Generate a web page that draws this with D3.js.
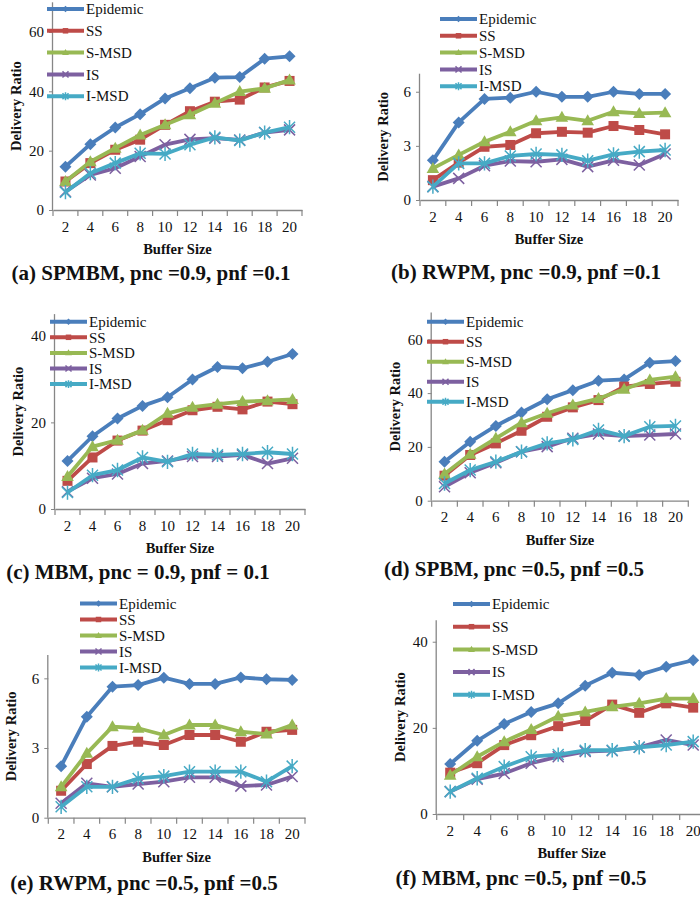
<!DOCTYPE html>
<html><head><meta charset="utf-8">
<script src="https://cdn.jsdelivr.net/npm/d3@7"></script>
<style>html,body{margin:0;padding:0;background:#fff;}svg{display:block;}
svg text{font-family:"Liberation Serif","Times New Roman",serif;}</style>
</head><body>
<svg id="chart" width="700" height="900"></svg>
<script>
// ---------- DATA ----------
const bufferSizes = [2, 4, 6, 8, 10, 12, 14, 16, 18, 20];
const seriesNames = ["Epidemic", "SS", "S-MSD", "IS", "I-MSD"];

// (a) SPMBM, pnc=0.9, pnf=0.1
const epidemicA = [14.6, 22.2, 27.8, 32.3, 37.6, 41.0, 44.6, 44.8, 51.0, 51.8];
const ssA       = [9.6, 15.8, 20.3, 23.7, 28.7, 33.3, 36.5, 37.2, 41.3, 43.5];
const smsdA     = [9.6, 16.3, 20.8, 25.3, 28.7, 32.1, 36.0, 39.9, 41.0, 43.8];
const isA       = [6.2, 11.8, 14.1, 18.0, 22.0, 23.8, 24.2, 23.6, 26.1, 27.0];
const imsdA     = [6.0, 12.4, 15.8, 19.1, 18.9, 22.0, 24.5, 23.4, 26.1, 27.9];
const yTicksA = [0, 20, 40, 60];
const yMaxA = 70;
const captionA = "(a) SPMBM, pnc =0.9, pnf =0.1";

// (b) RWPM, pnc=0.9, pnf=0.1
const epidemicB = [2.2, 4.3, 5.6, 5.67, 6.0, 5.72, 5.72, 6.0, 5.88, 5.88];
const ssB       = [1.1, 2.07, 2.95, 3.05, 3.7, 3.78, 3.73, 4.1, 3.88, 3.64];
const smsdB     = [1.75, 2.5, 3.23, 3.78, 4.39, 4.58, 4.39, 4.89, 4.8, 4.84];
const isB       = [0.74, 1.2, 1.9, 2.16, 2.12, 2.25, 1.85, 2.2, 1.94, 2.55];
const imsdB     = [0.74, 2.03, 2.03, 2.44, 2.55, 2.5, 2.18, 2.53, 2.68, 2.77];
const yTicksB = [0, 3, 6];
const yMaxB = 7;
const captionB = "(b) RWPM, pnc =0.9, pnf =0.1";

// (c) MBM, pnc=0.9, pnf=0.1
const epidemicC = [11.1, 16.8, 20.9, 23.8, 25.8, 29.9, 32.8, 32.5, 34.0, 35.8];
const ssC       = [6.5, 11.9, 15.8, 18.1, 20.5, 22.8, 23.6, 23.0, 24.8, 24.2];
const smsdC     = [7.5, 14.4, 15.9, 18.2, 22.1, 23.5, 24.2, 24.8, 25.0, 25.3];
const isC       = [4.0, 7.1, 8.1, 10.5, 11.1, 12.1, 12.1, 12.5, 10.5, 11.7];
const imsdC     = [3.8, 7.8, 9.0, 11.9, 10.9, 12.7, 12.5, 12.7, 13.1, 12.7];
const yTicksC = [0, 20, 40];
const yMaxC = 45;
const captionC = "(c) MBM, pnc = 0.9, pnf = 0.1";

// (d) SPBM, pnc=0.5, pnf=0.5
const epidemicD = [14.5, 21.9, 27.8, 32.8, 37.7, 41.1, 44.6, 45.1, 51.3, 51.9];
const ssD       = [9.3, 17.0, 21.3, 26.0, 31.2, 34.7, 37.4, 42.4, 43.4, 44.2];
const smsdD     = [9.9, 17.3, 23.2, 29.0, 32.5, 35.6, 38.0, 41.4, 44.9, 46.1];
const isD       = [5.2, 10.4, 14.1, 18.2, 20.1, 23.2, 24.8, 24.0, 24.4, 24.8];
const imsdD     = [6.4, 11.4, 14.5, 18.2, 21.3, 22.8, 26.3, 24.0, 27.5, 27.8];
const yTicksD = [0, 20, 40, 60];
const yMaxD = 70;
const captionD = "(d) SPBM, pnc =0.5, pnf =0.5";

// (e) RWPM, pnc=0.5, pnf=0.5
const epidemicE = [2.22, 4.35, 5.64, 5.71, 6.03, 5.76, 5.76, 6.04, 5.96, 5.93];
const ssE       = [1.16, 2.31, 3.09, 3.27, 3.13, 3.56, 3.56, 3.27, 3.7, 3.78];
const smsdE     = [1.33, 2.77, 3.92, 3.85, 3.56, 3.99, 3.99, 3.7, 3.6, 3.99];
const isE       = [0.62, 1.48, 1.33, 1.45, 1.55, 1.74, 1.74, 1.36, 1.41, 1.77];
const imsdE     = [0.47, 1.33, 1.33, 1.69, 1.79, 1.98, 1.98, 1.98, 1.55, 2.22];
const yTicksE = [0, 3, 6];
const yMaxE = 7;
const captionE = "(e) RWPM, pnc =0.5, pnf =0.5";

// (f) MBM, pnc=0.5, pnf=0.5
const epidemicF = [11.6, 17.0, 20.9, 23.7, 25.7, 29.8, 32.8, 32.3, 34.2, 35.7];
const ssF       = [9.6, 11.8, 16.0, 18.3, 20.4, 21.6, 25.4, 23.5, 25.7, 24.7];
const smsdF     = [9.0, 13.3, 16.8, 19.6, 22.7, 23.7, 24.9, 25.7, 26.8, 26.8];
const isF       = [5.2, 8.1, 9.4, 11.8, 13.3, 14.5, 14.7, 15.5, 17.2, 16.0];
const imsdF     = [5.2, 8.3, 11.0, 13.3, 13.8, 14.8, 14.8, 15.5, 16.0, 16.8];
const yTicksF = [0, 20, 40];
const yMaxF = 45;
const captionF = "(f) MBM, pnc =0.5, pnf =0.5";

const xTitle = "Buffer Size";
const yTitle = "Delivery Ratio";

// ---------- STYLE ----------
const colors = ["#4a7ebb", "#be4b48", "#98b954", "#7d60a0", "#46aac5"];
const markers = ["diamond", "square", "triangle", "x", "star"];

// ---------- LAYOUT (pixels) ----------
const panels = [
  { series: [epidemicA, ssA, smsdA, isA, imsdA], ticks: yTicksA, yMax: yMaxA, caption: captionA,
    x0: 53, x1: 302, y0: 210, yTop: 2.3, legX: 47, legY: 9, legStep: 21.8, capX: 151, capY: 273 },
  { series: [epidemicB, ssB, smsdB, isB, imsdB], ticks: yTicksB, yMax: yMaxB, caption: captionB,
    x0: 420, x1: 678, y0: 200, yTop: 73.7, legX: 440, legY: 19, legStep: 16.8, capX: 526, capY: 272 },
  { series: [epidemicC, ssC, smsdC, isC, imsdC], ticks: yTicksC, yMax: yMaxC, caption: captionC,
    x0: 55, x1: 305, y0: 509, yTop: 314.1, legX: 50, legY: 321.7, legStep: 15.6, capX: 138, capY: 572 },
  { series: [epidemicD, ssD, smsdD, isD, imsdD], ticks: yTicksD, yMax: yMaxD, caption: captionD,
    x0: 431.7, x1: 688.3, y0: 500.7, yTop: 312.4, legX: 427, legY: 321.7, legStep: 20, capX: 514, capY: 569 },
  { series: [epidemicE, ssE, smsdE, isE, imsdE], ticks: yTicksE, yMax: yMaxE, caption: captionE,
    x0: 48.3, x1: 305, y0: 817.7, yTop: 655.1, legX: 80, legY: 603.5, legStep: 16, capX: 144, capY: 883 },
  { series: [epidemicF, ssF, smsdF, isF, imsdF], ticks: yTicksF, yMax: yMaxF, caption: captionF,
    x0: 436.7, x1: 706.7, y0: 814, yTop: 620.2, legX: 453, legY: 604, legStep: 22.7, capX: 521, capY: 878 }
];

const svg = d3.select("#chart");

function drawMarker(g, type, color, s) {
  if (type === "diamond") {
    g.append("path").attr("d", `M0,${-6*s}L${6*s},0L0,${6*s}L${-6*s},0Z`).attr("fill", color);
  } else if (type === "square") {
    g.append("rect").attr("x", -5*s).attr("y", -5*s).attr("width", 10*s).attr("height", 10*s).attr("fill", color);
  } else if (type === "triangle") {
    g.append("path").attr("d", `M0,${-6.5*s}L${6.3*s},${4.5*s}L${-6.3*s},${4.5*s}Z`).attr("fill", color);
  } else if (type === "x" || type === "star") {
    const r = 5.5 * s;
    g.append("path").attr("d", `M${-r},${-r}L${r},${r}M${-r},${r}L${r},${-r}` + (type === "star" ? `M0,${-r*1.3}L0,${r*1.3}` : ""))
      .attr("stroke", color).attr("stroke-width", 1.5).attr("fill", "none");
  }
}

panels.forEach(p => {
  const g = svg.append("g");
  const x = d3.scaleBand().domain(bufferSizes).range([p.x0, p.x1]).padding(0);
  const y = d3.scaleLinear().domain([0, p.yMax]).range([p.y0, p.yTop]);

  // y axis
  const yAxis = d3.axisLeft(y).tickValues(p.ticks).tickSize(4).tickPadding(5).tickFormat(d3.format("d"));
  const ya = g.append("g").attr("transform", `translate(${p.x0},0)`).call(yAxis);
  ya.attr("font-family", null);
  ya.select(".domain").attr("stroke", "#868686").attr("stroke-width", 1.3).attr("d", `M-0.5,${p.y0}V${p.yTop}`);
  ya.selectAll(".tick line").attr("stroke", "#868686");
  ya.selectAll(".tick text").attr("font-size", 15).attr("fill", "#111");

  // x axis
  const xAxis = d3.axisBottom(x).tickSize(0).tickPadding(11);
  const xa = g.append("g").attr("transform", `translate(0,${p.y0})`).call(xAxis);
  xa.attr("font-family", null);
  xa.select(".domain").attr("stroke", "#868686").attr("stroke-width", 1.3);
  xa.selectAll(".tick text").attr("font-size", 15).attr("fill", "#111");
  const bounds = bufferSizes.map(d => x(d)).concat([x(bufferSizes[bufferSizes.length - 1]) + x.bandwidth()]);
  xa.selectAll("line.sep").data(bounds).join("line").attr("class", "sep")
    .attr("x1", d => d).attr("x2", d => d).attr("y1", 0).attr("y2", 6)
    .attr("stroke", "#868686").attr("stroke-width", 1.2);

  // axis titles
  g.append("text").attr("x", (p.x0 + p.x1) / 2).attr("y", p.y0 + 39).attr("dy", "0.35em")
    .attr("text-anchor", "middle").attr("font-weight", "bold").attr("font-size", 14.5).attr("fill", "#111")
    .text(xTitle);
  g.append("text").attr("transform", `translate(${p.x0 - 37},${(p.y0 + p.yTop) / 2}) rotate(-90)`).attr("dy", "0.35em")
    .attr("text-anchor", "middle").attr("font-weight", "bold").attr("font-size", 14.5).attr("fill", "#111")
    .text(yTitle);

  // series
  const line = d3.line().x((d, i) => x(bufferSizes[i]) + x.bandwidth() / 2).y(d => y(d));
  p.series.forEach((vals, si) => {
    const sg = g.append("g");
    sg.append("path").datum(vals).attr("d", line).attr("fill", "none")
      .attr("stroke", colors[si]).attr("stroke-width", 3.8).attr("stroke-linejoin", "round");
    vals.forEach((v, i) => {
      const mg = sg.append("g").attr("transform", `translate(${x(bufferSizes[i]) + x.bandwidth() / 2},${y(v)})`);
      drawMarker(mg, markers[si], colors[si], 1);
    });
  });

  // legend
  seriesNames.forEach((name, si) => {
    const ly = p.legY + si * p.legStep;
    const lg = g.append("g");
    lg.append("line").attr("x1", p.legX).attr("x2", p.legX + 37).attr("y1", ly).attr("y2", ly)
      .attr("stroke", colors[si]).attr("stroke-width", 4);
    const mg = lg.append("g").attr("transform", `translate(${p.legX + 18.5},${ly})`);
    drawMarker(mg, markers[si], colors[si], 0.55);
    lg.append("text").attr("x", p.legX + 39).attr("y", ly).attr("dy", "0.35em")
      .attr("font-size", 15).attr("fill", "#111").text(name);
  });

  // caption
  g.append("text").attr("x", p.capX).attr("y", p.capY).attr("dy", "0.35em").attr("text-anchor", "middle")
    .attr("font-weight", "bold").attr("font-size", 21).attr("fill", "#111")
    .text(p.caption);
});
</script>
</body></html>
